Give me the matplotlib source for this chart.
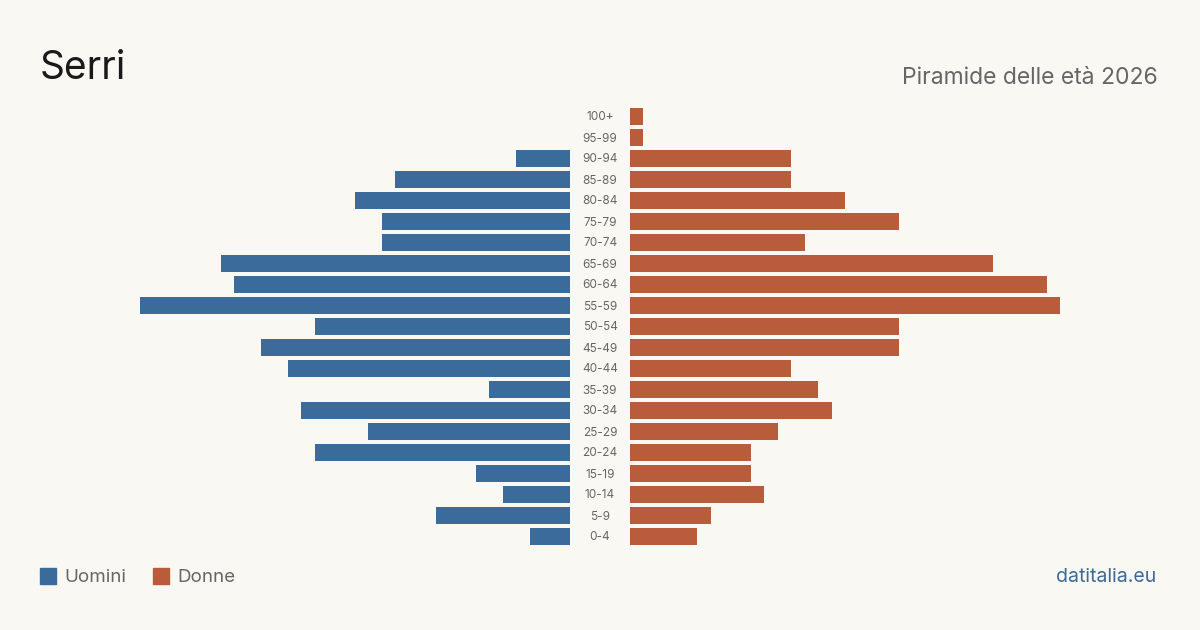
import matplotlib
matplotlib.use("Agg")
import matplotlib.pyplot as plt
from matplotlib.patches import Rectangle

plt.rcParams['font.family'] = ['Inter', 'DejaVu Sans']

age_groups = ["100+", "95-99", "90-94", "85-89", "80-84", "75-79", "70-74", "65-69",
              "60-64", "55-59", "50-54", "45-49", "40-44", "35-39", "30-34", "25-29",
              "20-24", "15-19", "10-14", "5-9", "0-4"]
men = [0, 0, 4, 13, 16, 14, 14, 26, 25, 32, 19, 23, 21, 6, 20, 15, 19, 7, 5, 10, 3]
women = [1, 1, 12, 12, 16, 20, 13, 27, 31, 32, 20, 20, 12, 14, 15, 11, 9, 9, 10, 6, 5]

title = "Serri"
subtitle = "Piramide delle età 2026"
legend_labels = ["Uomini", "Donne"]
source = "datitalia.eu"

BG = "#faf8f3"
BLUE = "#3b6b9b"
ORANGE = "#b95c3b"

W, H = 1200, 630
fig = plt.figure(figsize=(12, 6.3), dpi=100, facecolor=BG)

xmax = 32
n = len(age_groups)
top_px, bottom_px = 116.8 - 10.5, 536.8 + 10.5
ax_b = 1 - bottom_px / H
ax_h = (bottom_px - top_px) / H

axL = fig.add_axes([140 / W, ax_b, 430 / W, ax_h])
axR = fig.add_axes([630 / W, ax_b, 430 / W, ax_h])
ypos = list(range(n))
for ax in (axL, axR):
    ax.set_facecolor(BG)
    ax.set_ylim(n - 0.5, -0.5)
    ax.axis('off')
axL.barh(ypos, men, height=0.8, color=BLUE)
axL.set_xlim(xmax, 0)
axR.barh(ypos, women, height=0.8, color=ORANGE)
axR.set_xlim(0, xmax)

for i, lab in enumerate(age_groups):
    yc = 117.5 + 21 * i
    fig.text(600 / W, 1 - yc / H, lab, ha='center', va='center', fontsize=8.5, color='#666666')

fig.text(40 / W, 1 - 68.5 / H, title, ha='left', va='center', fontsize=28, color='#1a1a1a')
fig.text(1158 / W, 1 - 78 / H, subtitle, ha='right', va='center', fontsize=16.5, color='#666666')

# legend
for (x0, col, lab) in [(40, BLUE, legend_labels[0]), (153, ORANGE, legend_labels[1])]:
    fig.patches.append(Rectangle((x0 / W, 1 - 584 / H), 16 / W, 16 / H,
                                 transform=fig.transFigure, color=col))
    fig.text((x0 + 24) / W, 1 - 577.5 / H, lab, ha='left', va='center', fontsize=13.5, color='#666666')

fig.text(1156 / W, 1 - 577.5 / H, source, ha='right', va='center', fontsize=14, color=BLUE)

fig.savefig("out.png", dpi=100, facecolor=BG)
